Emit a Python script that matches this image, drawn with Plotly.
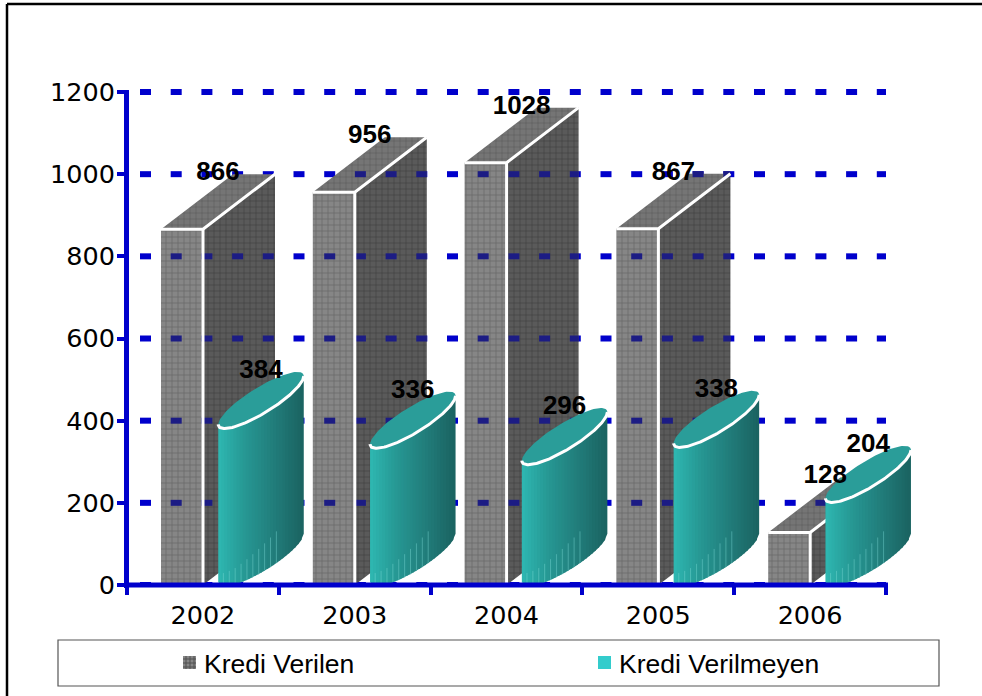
import numpy as np
import plotly.graph_objects as go

# Chart data
years = ["2002", "2003", "2004", "2005", "2006"]
kredi_verilen = [866, 956, 1028, 867, 128]
kredi_verilmeyen = [384, 336, 296, 338, 204]
y_ticks = [0, 200, 400, 600, 800, 1000, 1200]

# Page and value axes, in pixels
W, H = 982, 696
L, AXIS_R, AXIS_T, B = 127, 886, 92, 585
px_x = (AXIS_R - L) / 5.0            # pixels per category
px_y = (B - AXIS_T) / 1200.0         # pixels per value unit
# The drawing area runs a little past the axes so the last cylinder and top dashes stay whole
R, T = 930, 84


def xu(px):
    return px / px_x


def yu(px):
    return px / px_y


def paper_x(px):
    return (px - L) / (R - L)


def paper_y(px):
    return (B - px) / (B - T)


# Oblique 3D offsets
BAR_LEFT, BAR_RIGHT = xu(34), xu(76)
DEPTH_X, DEPTH_Y = xu(72), yu(55)
SLOPE = DEPTH_Y / DEPTH_X
CYL_CENTER = xu(134)
AX, AY = xu(42), yu(26.5)
BX, BY = xu(8), yu(-10)
CYL_LIFT = yu(27)
LABEL_LIFT = yu(55.5)
STRIPS = 28

fig = go.Figure()


def join(parts):
    out = []
    for p in parts:
        out.extend(p)
        out.append(None)
    return out


# Dashed gridlines
DASH_START, DASH_PERIOD, DASH_LEN = xu(13), xu(30.7), xu(11)
dash_starts = np.arange(DASH_START, 5, DASH_PERIOD)
gx, gy = [], []
for level in y_ticks:
    for d in dash_starts:
        gx += [d, min(d + DASH_LEN, 5), None]
        gy += [level, level, None]
fig.add_trace(go.Scatter(x=gx, y=gy, mode="lines", hoverinfo="skip", showlegend=False,
                         line=dict(color="#0000cc", width=6)))

# Box faces
fx, fy, sx, sy, tx, ty = [], [], [], [], [], []
ex, ey = [], []
for i, v in enumerate(kredi_verilen):
    x0, x1 = i + BAR_LEFT, i + BAR_RIGHT
    fx.append([x0, x1, x1, x0, x0]); fy.append([0, 0, v, v, 0])
    sx.append([x1, x1 + DEPTH_X, x1 + DEPTH_X, x1, x1])
    sy.append([0, DEPTH_Y, v + DEPTH_Y, v, 0])
    tx.append([x0, x1, x1 + DEPTH_X, x0 + DEPTH_X, x0])
    ty.append([v, v, v + DEPTH_Y, v + DEPTH_Y, v])
    ex.append([x0, x1, x1 + DEPTH_X]); ey.append([v, v, v + DEPTH_Y])
    ex.append([x1, x1]); ey.append([0, v])

faces = [
    (sx, sy, "#5a5a5a", "#2e2e2e"),
    (tx, ty, "#757575", "#4c4c4c"),
    (fx, fy, "#868686", "#4e4e4e"),
]
for xs, ys, bg, fg in faces:
    fig.add_trace(go.Scatter(
        x=join(xs), y=join(ys), mode="lines", fill="toself", hoverinfo="skip", showlegend=False,
        line=dict(width=0), fillcolor=bg,
        fillpattern=dict(shape="+", size=6, solidity=0.25, fgcolor=fg, bgcolor=bg)))


# Gridline dashes seen across the boxes are darker
def covered(level, i, v):
    x0, x1 = i + BAR_LEFT, i + BAR_RIGHT
    if level > v + DEPTH_Y:
        return None
    if level > v:
        return x0 + (level - v) / SLOPE, x1 + DEPTH_X
    return x0, min(x1 + DEPTH_X, x1 + level / SLOPE)


ox, oy = [], []
for level in y_ticks[1:]:
    for i, v in enumerate(kredi_verilen):
        span = covered(level, i, v)
        if span is None:
            continue
        for d in dash_starts:
            a, b = max(d, span[0]), min(d + DASH_LEN, span[1])
            if b > a:
                ox += [a, b, None]
                oy += [level, level, None]
fig.add_trace(go.Scatter(x=ox, y=oy, mode="lines", hoverinfo="skip", showlegend=False,
                         line=dict(color="#1c1c84", width=6)))
fig.add_trace(go.Scatter(x=join(ex), y=join(ey), mode="lines", hoverinfo="skip", showlegend=False,
                         line=dict(color="white", width=3)))

# Cylinders: vertical shaded strips between the two lower ellipse arcs
t0 = np.arctan2(BX, AX)
t_low = np.linspace(t0, t0 + np.pi, 80)
low_x = AX * np.cos(t_low) + BX * np.sin(t_low)
low_y = AY * np.cos(t_low) + BY * np.sin(t_low)
order = np.argsort(low_x)
low_x_s, low_y_s = low_x[order], low_y[order]
ext = low_x_s[-1]
edges = np.linspace(-ext, ext, STRIPS + 1)
arc = np.interp(edges, low_x_s, low_y_s)

stops = [(0.0, (46, 182, 176)), (0.3, (39, 152, 148)), (0.7, (33, 122, 120)), (1.0, (27, 100, 98))]


def shade(f):
    for (f0, c0), (f1, c1) in zip(stops, stops[1:]):
        if f <= f1:
            w = (f - f0) / (f1 - f0)
            return "rgb(%d,%d,%d)" % tuple(a + (b - a) * w for a, b in zip(c0, c1))


for k in range(STRIPS):
    sxs, sys_ = [], []
    for i, v in enumerate(kredi_verilmeyen):
        c = i + CYL_CENTER
        top = v + CYL_LIFT
        base = CYL_LIFT
        a, b = edges[k], edges[k + 1] + (edges[1] - edges[0]) * 0.3 * (k < STRIPS - 1)
        arc_b = np.interp(b, low_x_s, low_y_s)
        sxs.append([c + a, c + b, c + b, c + a, c + a])
        sys_.append([max(base + arc[k], 0), max(base + arc_b, 0), top + arc_b, top + arc[k],
                     max(base + arc[k], 0)])
    col = shade(k / (STRIPS - 1))
    fig.add_trace(go.Scatter(x=join(sxs), y=join(sys_), mode="lines", fill="toself", fillcolor=col,
                             line=dict(width=0), hoverinfo="skip", showlegend=False))

# Pale streaks rising from the base of each cylinder
stx, sty = [], []
for i, v in enumerate(kredi_verilmeyen):
    c = i + CYL_CENTER
    for f in np.linspace(0.06, 0.68, 10):
        xq = -ext + 2 * ext * f
        b = max(CYL_LIFT + np.interp(xq, low_x_s, low_y_s), 0)
        rise = min(yu(10 + 32 * f), v * 0.6)
        stx += [c + xq, c + xq, None]
        sty += [b, b + rise, None]
fig.add_trace(go.Scatter(x=stx, y=sty, mode="lines", hoverinfo="skip", showlegend=False,
                         line=dict(color="rgba(120,215,210,0.45)", width=1)))

# Cylinder caps
t_full = np.linspace(0, 2 * np.pi, 120)
capx, capy, rimx, rimy = [], [], [], []
for i, v in enumerate(kredi_verilmeyen):
    c = i + CYL_CENTER
    top = v + CYL_LIFT
    capx.append(list(c + AX * np.cos(t_full) + BX * np.sin(t_full)))
    capy.append(list(top + AY * np.cos(t_full) + BY * np.sin(t_full)))
    rimx.append(list(c + low_x))
    rimy.append(list(top + low_y))
fig.add_trace(go.Scatter(x=join(capx), y=join(capy), mode="lines", fill="toself", fillcolor="#2a9d99",
                         line=dict(width=0), hoverinfo="skip", showlegend=False))
fig.add_trace(go.Scatter(x=join(rimx), y=join(rimy), mode="lines", hoverinfo="skip", showlegend=False,
                         line=dict(color="white", width=3)))

# Value labels
label_x = [i + BAR_RIGHT + xu(15) for i in range(5)] + [i + CYL_CENTER for i in range(5)]
label_y = [v + LABEL_LIFT for v in kredi_verilen] + [v + LABEL_LIFT for v in kredi_verilmeyen]
label_t = [str(v) for v in kredi_verilen + kredi_verilmeyen]
fig.add_trace(go.Scatter(x=label_x, y=label_y, text=label_t, mode="text", textposition="middle center",
                         cliponaxis=False, hoverinfo="skip", showlegend=False,
                         textfont=dict(family="Liberation Sans", size=26, color="black",
                                       weight="bold")))

AXIS_BLUE = "#0000cc"
shapes = [
    # Outer frame, left and top sides only reach the page
    dict(type="line", xref="paper", yref="paper", x0=paper_x(7), x1=paper_x(7), y0=paper_y(4), y1=paper_y(H),
         line=dict(color="black", width=2.5)),
    dict(type="line", xref="paper", yref="paper", x0=paper_x(7), x1=paper_x(W), y0=paper_y(4), y1=paper_y(4),
         line=dict(color="black", width=2.5)),
    # Legend box
    dict(type="rect", xref="paper", yref="paper", x0=paper_x(58), x1=paper_x(939), y0=paper_y(640), y1=paper_y(686),
         line=dict(color="#555555", width=1.2), fillcolor="white", layer="below"),
    dict(type="rect", xref="paper", yref="paper", x0=paper_x(183), x1=paper_x(196), y0=paper_y(656), y1=paper_y(669),
         line=dict(width=0), fillcolor="#868686"),
    dict(type="rect", xref="paper", yref="paper", x0=paper_x(598), x1=paper_x(611), y0=paper_y(656), y1=paper_y(669),
         line=dict(width=0), fillcolor="#33cccc"),
    # Axis lines
    dict(type="line", xref="paper", yref="paper", x0=paper_x(126.5), x1=paper_x(126.5), y0=paper_y(B + 3),
         y1=paper_y(AXIS_T - 2), line=dict(color=AXIS_BLUE, width=5)),
    dict(type="line", xref="paper", yref="paper", x0=paper_x(124), x1=paper_x(AXIS_R + 2), y0=paper_y(B), y1=paper_y(B),
         line=dict(color=AXIS_BLUE, width=5)),
]
# Grid lines on the grey legend swatch
for offset in (3, 7, 11):
    shapes.append(dict(type="line", xref="paper", yref="paper", x0=paper_x(183 + offset), x1=paper_x(183 + offset),
                       y0=paper_y(656), y1=paper_y(669), line=dict(color="#505050", width=1)))
    shapes.append(dict(type="line", xref="paper", yref="paper", x0=paper_x(183), x1=paper_x(196),
                       y0=paper_y(656 + offset), y1=paper_y(656 + offset), line=dict(color="#505050", width=1)))

legend_font = dict(family="Liberation Sans", size=26.5, color="black")
annotations = [
    dict(text="Kredi Verilen", xref="paper", yref="paper", x=paper_x(202), y=paper_y(664), xanchor="left",
         yanchor="middle", showarrow=False, font=legend_font),
    dict(text="Kredi Verilmeyen", xref="paper", yref="paper", x=paper_x(617), y=paper_y(664), xanchor="left",
         yanchor="middle", showarrow=False, font=legend_font),
]

tick_font = dict(family="DejaVu Sans", size=25.5, color="black")
fig.update_layout(
    width=W, height=H, margin=dict(l=L, r=W - R, t=T, b=H - B, autoexpand=False),
    paper_bgcolor="white", plot_bgcolor="white", showlegend=False,
    shapes=shapes, annotations=annotations,
    xaxis=dict(range=[0, (R - L) / px_x], tickvals=[i + 0.5 for i in range(5)], ticktext=years, ticks="",
               tickfont=tick_font, showgrid=False, zeroline=False, ticklabelstandoff=12,
               minor=dict(tickvals=list(range(6)), ticks="outside", ticklen=9, tickwidth=4,
                          tickcolor=AXIS_BLUE, showgrid=False)),
    yaxis=dict(range=[0, (B - T) / px_y], tickvals=y_ticks, ticks="outside", ticklen=9, tickwidth=4,
               tickcolor=AXIS_BLUE, tickfont=tick_font, showgrid=False, zeroline=False,
               ticklabelstandoff=-3),
)

fig.write_html("out.html")
